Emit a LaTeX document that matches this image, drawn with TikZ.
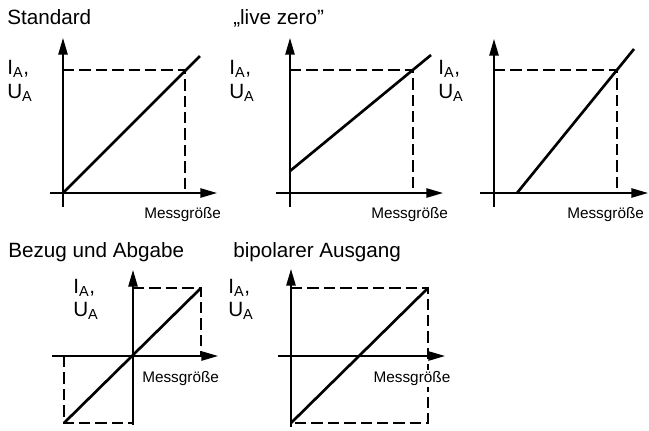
\documentclass[tikz,border=0pt]{standalone}
\usepackage{fontspec}
\setmainfont{Liberation Sans}
\usetikzlibrary{arrows.meta}
\begin{document}
\begin{tikzpicture}[x=0.75pt,y=-0.75pt,
  axis/.style={line width=1.2pt,-{Triangle[length=12.5pt,width=7pt]}},
  plainaxis/.style={line width=1.2pt},
  curve/.style={line width=2pt},
  guide/.style={line width=0.85pt,dash pattern=on 8.5pt off 3.8pt},
  title/.style={anchor=base west,inner sep=0pt,font=\fontsize{15.5}{18}\selectfont},
  ylab/.style={anchor=base west,inner sep=0pt,font=\fontsize{15.5}{18}\selectfont},
  xlab/.style={anchor=base west,inner sep=0pt,font=\fontsize{11.5}{13}\selectfont}]
\useasboundingbox (0,0) rectangle (649,430);

% ---------- Panel 1: Standard
\node[title] (t1) at (7,24) {Standard};
\node[ylab] (y1a) at (7,74) {I\textsubscript{A},};
\node[ylab] (y1b) at (7,98) {U\textsubscript{A}};
\node[xlab] (x1) at (144,218) {Messgröße};
\coordinate (o1) at (63,193);
\coordinate (ya1) at (63,38);
\coordinate (yb1) at (63,207);
\coordinate (xl1) at (50,193);
\coordinate (xr1) at (217,193);
\coordinate (p1) at (185,70);
\coordinate (e1) at (200,56);
\draw[guide] (63,70) -- (p1) -- (185,193);
\draw[plainaxis] (yb1) -- (o1);
\draw[axis] (o1) -- (ya1);
\draw[axis] (xl1) -- (xr1);
\draw[curve] (o1) -- (e1);

% ---------- Panel 2: live zero
\node[title] (t2) at (233,24) {„live zero”};
\node[ylab] (y2a) at (229,74) {I\textsubscript{A},};
\node[ylab] (y2b) at (229,98) {U\textsubscript{A}};
\node[xlab] (x2) at (371,218) {Messgröße};
\coordinate (o2) at (290,193);
\coordinate (ya2) at (290,38);
\coordinate (yb2) at (290,207);
\coordinate (xl2) at (276,193);
\coordinate (xr2) at (443,193);
\coordinate (s2) at (290,171);
\coordinate (e2) at (431,55);
\draw[guide] (290,70) -- (413,70) -- (413,193);
\draw[plainaxis] (yb2) -- (o2);
\draw[axis] (o2) -- (ya2);
\draw[axis] (xl2) -- (xr2);
\draw[curve] (s2) -- (e2);

% ---------- Panel 3
\node[ylab] (y3a) at (438,74) {I\textsubscript{A},};
\node[ylab] (y3b) at (438,98) {U\textsubscript{A}};
\node[xlab] (x3) at (567,218) {Messgröße};
\coordinate (o3) at (494,193);
\coordinate (ya3) at (494,39);
\coordinate (yb3) at (494,207);
\coordinate (xl3) at (480,193);
\coordinate (xr3) at (648,193);
\coordinate (s3) at (517,193);
\coordinate (e3) at (634,49);
\draw[guide] (494,70) -- (617,70) -- (617,193);
\draw[plainaxis] (yb3) -- (o3);
\draw[axis] (o3) -- (ya3);
\draw[axis] (xl3) -- (xr3);
\draw[curve] (s3) -- (e3);

% ---------- Panel 4: Bezug und Abgabe
\node[title] (t4) at (8,257) {Bezug und Abgabe};
\node[ylab] (y4a) at (73,293) {I\textsubscript{A},};
\node[ylab] (y4b) at (73,316) {U\textsubscript{A}};
\node[xlab] (x4) at (142,382) {Messgröße};
\coordinate (o4) at (133,356);
\coordinate (ya4) at (133,270);
\coordinate (yb4) at (133,425);
\coordinate (xl4) at (52,356);
\coordinate (xr4) at (218,356);
\coordinate (s4) at (64,423);
\coordinate (e4) at (201,288);
\draw[guide] (133,288) -- (e4) -- (201,356);
\draw[guide] (64,356) -- (s4) -- (133,423);
\draw[plainaxis] (yb4) -- (o4);
\draw[axis] (o4) -- (ya4);
\draw[axis] (xl4) -- (xr4);
\draw[curve] (s4) -- (e4);

% ---------- Panel 5: bipolarer Ausgang
\node[title] (t5) at (233,257) {bipolarer Ausgang};
\node[ylab] (y5a) at (228,293) {I\textsubscript{A},};
\node[ylab] (y5b) at (228,316) {U\textsubscript{A}};
\coordinate (o5) at (291,356);
\coordinate (ya5) at (291,269);
\coordinate (yb5) at (291,427);
\coordinate (xl5) at (278,356);
\coordinate (xr5) at (445,356);
\coordinate (s5) at (291,423);
\coordinate (e5) at (428,288);
\draw[guide] (291,288) -- (e5) -- (428,423) -- (s5);
\node[xlab,fill=white,inner sep=1pt] (x5) at (372,382) {Messgröße};
\draw[plainaxis] (yb5) -- (s5);
\draw[axis] (s5) -- (ya5);
\draw[axis] (xl5) -- (xr5);
\draw[curve] (s5) -- (e5);
\end{tikzpicture}
\end{document}
